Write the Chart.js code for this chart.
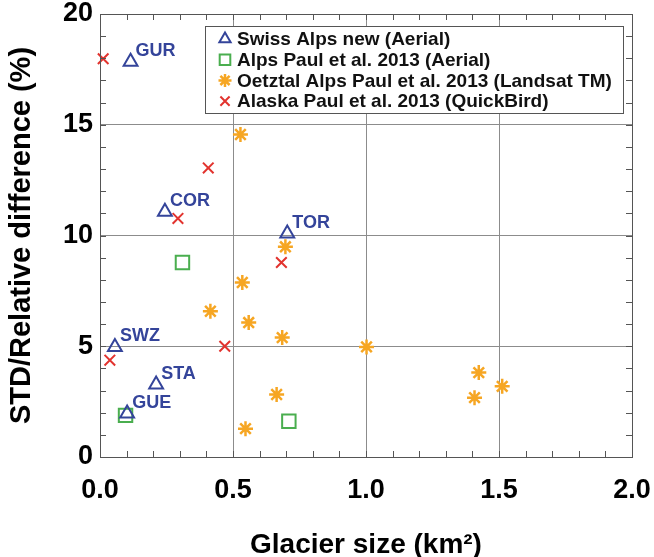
<!DOCTYPE html>
<html lang="en">
<head>
    <meta charset="UTF-8">
    <title>STD / Relative difference vs glacier size</title>
    <style>
        html, body {
            margin: 0;
            padding: 0;
            background: #fff;
        }
        #wrap {
            width: 654px;
            height: 557px;
        }
    </style>
</head>
<body>
    <div id="wrap"><canvas id="myChart" width="654" height="557"></canvas></div>

    <script src="https://cdn.jsdelivr.net/npm/chart.js"></script>
    <script>
        // Swiss Alps new (Aerial) - triangles with glacier names
        const swissX = [0.115, 0.244, 0.704, 0.056, 0.211, 0.102];
        const swissY = [17.84, 11.07, 10.09, 4.97, 3.27, 1.96];
        const swissNames = ['GUR', 'COR', 'TOR', 'SWZ', 'STA', 'GUE'];

        // Alps Paul et al. 2013 (Aerial)
        const alpsX = [0.31, 0.096, 0.71];
        const alpsY = [8.78, 1.88, 1.61];

        // Oetztal Alps Paul et al. 2013 (Landsat TM)
        const oetzX = [0.528, 0.697, 0.535, 0.415, 0.559, 0.685, 0.664, 0.547, 1.002, 1.424, 1.512, 1.408];
        const oetzY = [14.56, 9.49, 7.88, 6.58, 6.07, 5.39, 2.82, 1.28, 4.97, 3.81, 3.19, 2.68];

        // Alaska Paul et al. 2013 (QuickBird)
        const alaskaX = [0.012, 0.407, 0.293, 0.682, 0.469, 0.037];
        const alaskaY = [17.98, 13.05, 10.77, 8.78, 5.0, 4.37];

        const seriesNames = [
            'Swiss Alps new (Aerial)',
            'Alps Paul et al. 2013 (Aerial)',
            'Oetztal Alps Paul et al. 2013 (Landsat TM)',
            'Alaska Paul et al. 2013 (QuickBird)'
        ];

        const xTicks = [0, 0.5, 1.0, 1.5, 2.0];
        const yTicks = [0, 5, 10, 15, 20];

        const FONT = '"Liberation Sans", Arial, Helvetica, sans-serif';
        const BLUE = '#34449a';

        function toPoints(xs, ys) {
            return xs.map((x, i) => ({ x: x, y: ys[i] }));
        }

        // box frame + inward minor ticks on all four sides
        const frameTicks = {
            id: 'frameTicks',
            afterDatasetsDraw(chart) {
                const { ctx, chartArea: a, scales } = chart;
                const len = 6;
                ctx.save();
                ctx.strokeStyle = '#555';
                ctx.lineWidth = 1;
                ctx.beginPath();
                for (let i = 0; i <= 20; i++) {
                    const px = Math.round(scales.x.getPixelForValue(i * 0.1)) + 0.5;
                    ctx.moveTo(px, a.bottom); ctx.lineTo(px, a.bottom - len);
                    ctx.moveTo(px, a.top); ctx.lineTo(px, a.top + len);
                }
                for (let i = 0; i <= 20; i++) {
                    const py = Math.round(scales.y.getPixelForValue(i)) + 0.5;
                    ctx.moveTo(a.left, py); ctx.lineTo(a.left + len, py);
                    ctx.moveTo(a.right, py); ctx.lineTo(a.right - len, py);
                }
                ctx.stroke();
                ctx.strokeRect(Math.round(a.left) + 0.5, Math.round(a.top) + 0.5,
                    Math.round(a.right - a.left), Math.round(a.bottom - a.top));
                ctx.restore();
            }
        };

        // glacier names next to the triangles
        const pointNames = {
            id: 'pointNames',
            afterDatasetsDraw(chart) {
                const ctx = chart.ctx;
                const meta = chart.getDatasetMeta(0);
                ctx.save();
                ctx.font = 'bold 18px ' + FONT;
                ctx.fillStyle = BLUE;
                ctx.textAlign = 'left';
                ctx.textBaseline = 'alphabetic';
                meta.data.forEach((pt, i) => {
                    ctx.fillText(swissNames[i], pt.x + 5, pt.y - 6);
                });
                ctx.restore();
            }
        };

        // legend box inside the plot, upper right
        const boxLegend = {
            id: 'boxLegend',
            afterDraw(chart) {
                const { ctx, chartArea: a } = chart;
                const left = a.left + 105, top = a.top + 12;
                const w = 418, h = 87, row = 20.7;
                ctx.save();
                ctx.fillStyle = '#fff';
                ctx.fillRect(left, top, w, h);
                ctx.strokeStyle = '#555';
                ctx.lineWidth = 1;
                ctx.strokeRect(left + 0.5, top + 0.5, w, h);
                ctx.font = 'bold 19px ' + FONT;
                ctx.textBaseline = 'middle';
                chart.data.datasets.forEach((ds, i) => {
                    const cy = top + 13 + i * row;
                    ctx.strokeStyle = ds.borderColor;
                    ctx.fillStyle = 'rgba(0,0,0,0)';
                    ctx.lineWidth = ds.borderWidth;
                    Chart.helpers.drawPoint(ctx, {
                        pointStyle: ds.pointStyle,
                        radius: ds.legendRadius,
                        borderWidth: ds.borderWidth,
                        rotation: 0
                    }, left + 20, cy);
                    ctx.fillStyle = '#111';
                    ctx.fillText(ds.label, left + 32, cy + 1);
                });
                ctx.restore();
            }
        };

        const ctx = document.getElementById('myChart').getContext('2d');
        const myChart = new Chart(ctx, {
            type: 'scatter',
            data: {
                datasets: [
                    {
                        label: seriesNames[0],
                        data: toPoints(swissX, swissY),
                        pointStyle: 'triangle',
                        pointRadius: 8,
                        legendRadius: 6.5,
                        borderColor: BLUE,
                        backgroundColor: 'rgba(0,0,0,0)',
                        borderWidth: 2,
                        clip: false
                    },
                    {
                        label: seriesNames[1],
                        data: toPoints(alpsX, alpsY),
                        pointStyle: 'rect',
                        pointRadius: 9.5,
                        legendRadius: 7.5,
                        borderColor: '#4aae4f',
                        backgroundColor: 'rgba(0,0,0,0)',
                        borderWidth: 2,
                        clip: false
                    },
                    {
                        label: seriesNames[2],
                        data: toPoints(oetzX, oetzY),
                        pointStyle: 'star',
                        pointRadius: 7.5,
                        legendRadius: 6.5,
                        borderColor: '#f6a623',
                        backgroundColor: 'rgba(0,0,0,0)',
                        borderWidth: 2.5,
                        clip: false
                    },
                    {
                        label: seriesNames[3],
                        data: toPoints(alaskaX, alaskaY),
                        pointStyle: 'crossRot',
                        pointRadius: 7.5,
                        legendRadius: 6.5,
                        borderColor: '#e2332e',
                        backgroundColor: 'rgba(0,0,0,0)',
                        borderWidth: 2,
                        clip: false
                    }
                ]
            },
            options: {
                responsive: false,
                animation: false,
                layout: { padding: { top: 14, right: 22, left: 0, bottom: 0 } },
                plugins: {
                    legend: { display: false },
                    tooltip: { enabled: false }
                },
                scales: {
                    x: {
                        type: 'linear',
                        min: 0,
                        max: 2,
                        afterBuildTicks: (s) => { s.ticks = xTicks.map(v => ({ value: v })); },
                        afterFit: (s) => {
                            s.height = 100;
                            s.paddingLeft = 0;
                            s.paddingRight = 0;
                        },
                        grid: { color: '#8c8c8c', lineWidth: 1, drawTicks: false },
                        border: { display: true, color: '#555' },
                        ticks: {
                            padding: 17,
                            color: '#000',
                            font: { family: FONT, size: 27, weight: 'bold' },
                            callback: (v) => Number(v).toFixed(1)
                        },
                        title: {
                            display: true,
                            text: 'Glacier size (km²)',
                            color: '#000',
                            font: { family: FONT, size: 28, weight: 'bold' },
                            padding: { top: 20, bottom: -5 }
                        }
                    },
                    y: {
                        type: 'linear',
                        min: 0,
                        max: 20,
                        afterBuildTicks: (s) => { s.ticks = yTicks.map(v => ({ value: v })); },
                        afterFit: (s) => {
                            s.width = 100;
                            s.paddingTop = 0;
                            s.paddingBottom = 0;
                        },
                        grid: { color: '#8c8c8c', lineWidth: 1, drawTicks: false },
                        border: { display: true, color: '#555' },
                        ticks: {
                            padding: 7,
                            color: '#000',
                            font: { family: FONT, size: 27, weight: 'bold' }
                        },
                        title: {
                            display: true,
                            text: 'STD/Relative difference (%)',
                            color: '#000',
                            font: { family: FONT, size: 29, weight: 'bold' },
                            padding: { top: 5, bottom: 0 }
                        }
                    }
                }
            },
            plugins: [frameTicks, pointNames, boxLegend]
        });
    </script>
</body>
</html>
